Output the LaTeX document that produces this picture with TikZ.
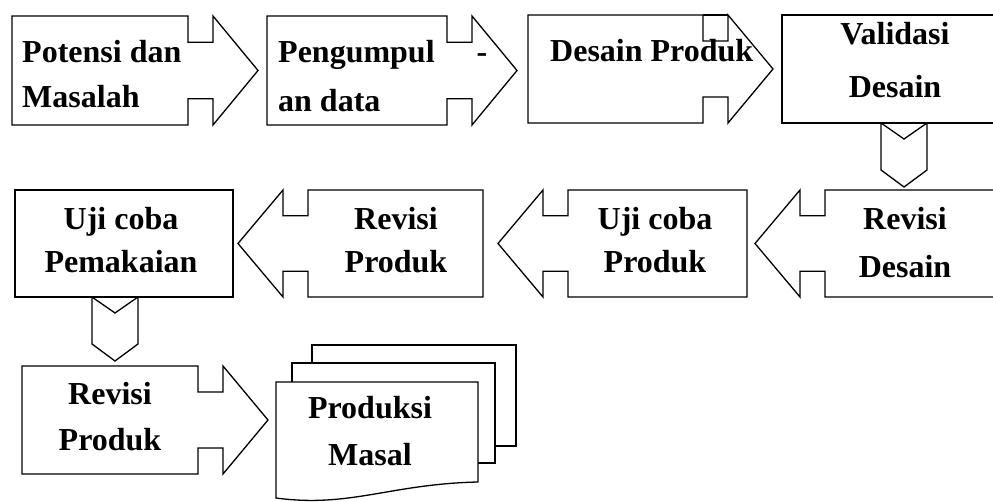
\documentclass[tikz,border=0pt]{standalone}
\usepackage{fontspec}
\setmainfont{Liberation Serif}
\usetikzlibrary{calc}
\tikzset{shp/.style={draw,line width=1.3pt,fill=white,line join=miter},
lbl/.style={font=\bfseries\fontsize{32}{#1}\selectfont,inner sep=0pt,align=center,anchor=base},
lbl/.default=45,
callout right/.style={to path={%
let \p1=(\tikztostart),\p2=(\tikztotarget),
\n1={0.24*(\y1-\y2)} in
-- (\x2,\y1) -- (\x2,\y1-\n1) -- (\x2+25pt,\y1-\n1) -- (\x2+25pt,\y1)
-- (\x2+70pt,{(\y1+\y2)/2}) -- (\x2+25pt,\y2) -- (\x2+25pt,\y2+\n1)
-- (\x2,\y2+\n1) -- (\x2,\y2) -- (\x1,\y2) -- cycle
}},
callout left/.style={to path={%
let \p1=(\tikztostart),\p2=(\tikztotarget),
\n1={0.24*(\y1-\y2)} in
-- (\x2,\y1) -- (\x2,\y2) -- (\x1,\y2) -- (\x1,\y2+\n1) -- (\x1-25pt,\y2+\n1)
-- (\x1-25pt,\y2) -- (\x1-70pt,{(\y1+\y2)/2}) -- (\x1-25pt,\y1)
-- (\x1-25pt,\y1-\n1) -- (\x1,\y1-\n1) -- cycle
}},
chevron/.style={to path={%
let \p1=(\tikztostart),\p2=(\tikztotarget) in
-- ({(\x1+\x2)/2},\y1-16pt) -- (\x2,\y1) -- (\x2,\y2+17pt)
-- ({(\x1+\x2)/2},\y2) -- (\x1,\y2+17pt) -- cycle
}}}

\begin{document}
\begin{tikzpicture}[x=1pt,y=-1pt]
  \useasboundingbox (0,0) rectangle (993,502);
  \clip (0,0) rectangle (993,502);
  % first row
  \draw[shp] (12,16) to[callout right] (188,125);
  \draw[shp] (267,16) to[callout right] (447,125);
  \draw[shp] (528,15) to[callout right] (703,123);
  \draw[shp] (703,15) -- (728,15);
  \draw[shp] (782,15) rectangle (1000,123);
  \draw[shp] (881,123) to[chevron] (927,187);
  % second row
  \draw[shp] (15,190) rectangle (233,297);
  \draw[shp] (308,190) to[callout left] (483,297);
  \draw[shp] (568,190) to[callout left] (747,297);
  \draw[shp] (825,190) to[callout left] (1000,297);
  \draw[shp] (92,297) to[chevron] (138,361);
  % third row
  \draw[shp] (22,366) to[callout right] (198,474);
  \draw[shp] (312,345) rectangle (516,446);
  \draw[shp] (292,363) rectangle (495,463);
  \draw[shp] (276,382) -- (478,382) -- (478,482)
    .. controls (390,484) and (350,508) .. (276,498) -- cycle;

  % texts sit on the baseline of their last line
  \node[lbl,anchor=base west,align=left] (potensi) at (22,108) {Potensi dan\\Masalah};
  \node[lbl=49,anchor=base west,align=left] (kumpul) at (278,112)
    {\makebox[209pt][l]{Pengumpul\hfill-}\\an data};
  \node[lbl,anchor=base west] (desain) at (550,62) {Desain Produk};
  \node[lbl=53] (validasi) at (895,98) {Validasi\\Desain};
  \node[lbl=43] (ujipakai) at (121,273) {Uji coba\\Pemakaian};
  \node[lbl=43] (revprod) at (396,273) {Revisi\\Produk};
  \node[lbl=43] (ujiprod) at (655,273) {Uji coba\\Produk};
  \node[lbl=48] (revdesain) at (905,278) {Revisi\\Desain};
  \node[lbl=46] (revprodb) at (110,450) {Revisi\\Produk};
  \node[lbl=47] (masal) at (370,465) {Produksi\\Masal};
\end{tikzpicture}
\end{document}
